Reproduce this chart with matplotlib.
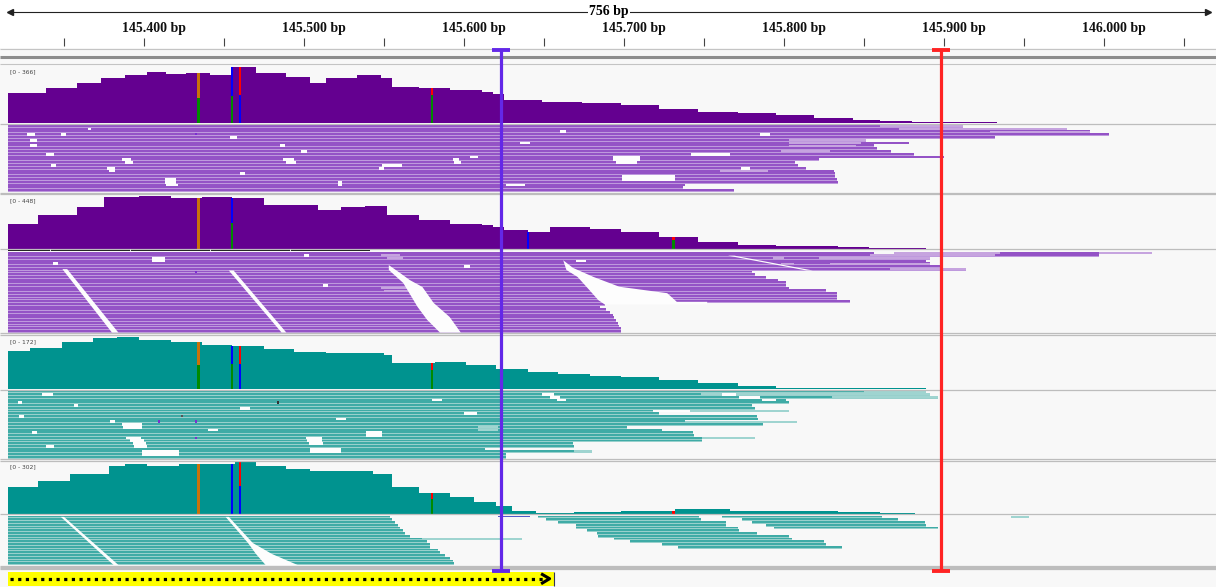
import matplotlib
matplotlib.use("Agg")
import matplotlib.pyplot as plt
import numpy as np

# genome window (bp)
START = 145315
END = 146066

# ruler
tick_pos = [145350, 145400, 145450, 145500, 145550, 145600, 145650, 145700,
            145750, 145800, 145850, 145900, 145950, 146000, 146050]
label_pos = [145400, 145500, 145600, 145700, 145800, 145900, 146000]
label_txt = ["145.400 bp", "145.500 bp", "145.600 bp", "145.700 bp",
             "145.800 bp", "145.900 bp", "146.000 bp"]
span_txt = "756 bp"

# coverage tracks: step start positions and depth
cov1_pos = [145315, 145339, 145358, 145373, 145388, 145402, 145414, 145426, 145441, 145455,
            145470, 145489, 145504, 145514, 145533, 145548, 145555, 145572, 145591, 145611,
            145618, 145625, 145649, 145674, 145698, 145722, 145746, 145771, 145795, 145819,
            145843, 145860, 145880, 145933]
cov1_depth = [191, 225, 259, 289, 308, 327, 315, 323, 308, 360,
              321, 297, 257, 289, 308, 289, 233, 225, 212, 197,
              184, 148, 137, 126, 116, 88, 73, 62, 49, 30,
              19, 13, 6, 0]
cov2_pos = [145315, 145334, 145358, 145375, 145397, 145417, 145436, 145455, 145475, 145494,
            145509, 145523, 145538, 145552, 145572, 145591, 145611, 145618, 145625, 145640,
            145654, 145679, 145698, 145722, 145746, 145771, 145795, 145834, 145853, 145889]
cov2_depth = [209, 279, 349, 428, 440, 420, 428, 420, 363, 363,
              321, 349, 357, 279, 237, 209, 194, 180, 152, 138,
              180, 166, 138, 96, 53, 31, 20, 11, 8, 0]
cov3_pos = [145315, 145329, 145349, 145368, 145383, 145397, 145417, 145436, 145455, 145475,
            145494, 145514, 145533, 145550, 145555, 145582, 145601, 145620, 145640, 145659,
            145679, 145698, 145722, 145746, 145771, 145795, 145843, 145889]
cov3_depth = [124, 132, 154, 165, 170, 159, 154, 143, 140, 129,
              121, 116, 118, 110, 83, 87, 78, 65, 54, 49,
              43, 40, 29, 18, 11, 4, 2, 0]
cov4_pos = [145315, 145334, 145354, 145378, 145388, 145402, 145422, 145441, 145457, 145470,
            145489, 145504, 145523, 145543, 145555, 145572, 145591, 145606, 145620, 145630,
            145645, 145669, 145698, 145732, 145766, 145795, 145834, 145860, 145882]
cov4_depth = [150, 188, 226, 274, 287, 274, 283, 287, 302, 274,
              255, 245, 245, 226, 150, 118, 93, 64, 42, 17,
              4, 11, 17, 27, 17, 17, 11, 4, 0]
cov_max = [366, 448, 172, 302]

# mismatch bars: (position, lower fraction, upper colour, lower colour)
snv1 = [(145434, 0.50, "orange", "green"), (145455, 0.49, "blue", "green"),
        (145460, 0.50, "red", "blue"), (145580, 0.80, "red", "green")]
snv2 = [(145434, 1.0, "orange", "orange"), (145455, 0.50, "blue", "green"),
        (145640, 1.0, "blue", "blue"), (145731, 0.70, "red", "green")]
snv3 = [(145434, 0.50, "orange", "green"), (145455, 0.58, "blue", "green"),
        (145460, 0.58, "red", "blue"), (145580, 0.75, "red", "green")]
snv4 = [(145434, 1.0, "orange", "orange"), (145455, 1.0, "blue", "blue"),
        (145460, 0.53, "red", "blue"), (145580, 0.70, "red", "green"),
        (145731, 0.0, "red", "red")]

# alignments: right end of the reads in each row (rows start at window start)
reads1_ends = [145912, 145977, 145991, 146003, 145932, 145851, 145878, 145856, 145858, 145867,
               145881, 145900, 145822, 145807, 145809, 145814, 145831, 145832, 145832, 145833,
               145834, 145738, 145737, 145769]
reads1_light = [(0, 145860, 145912), (1, 145872, 145977), (2, 145929, 145991),
                (5, 145803, 145851), (6, 145803, 145848), (7, 145803, 145845),
                (9, 145798, 145829), (16, 145760, 145790)]
reads1_gaps = [(11, 145693, 145710), (12, 145693, 145710), (13, 145695, 145708),
               (10, 145742, 145766), (18, 145699, 145732), (19, 145699, 145732),
               (21, 145626, 145638), (19, 145413, 145420), (20, 145413, 145420),
               (21, 145414, 145421), (20, 145521, 145524), (21, 145521, 145524),
               (12, 145386, 145392), (13, 145388, 145393), (15, 145377, 145382),
               (16, 145378, 145382), (12, 145487, 145494), (13, 145489, 145495),
               (12, 145593, 145597), (13, 145594, 145598), (14, 145549, 145561),
               (3, 145327, 145332), (5, 145329, 145333), (7, 145329, 145333),
               (10, 145339, 145344), (14, 145342, 145345), (3, 145348, 145351),
               (1, 145365, 145367), (16, 145379, 145381), (4, 145454, 145458),
               (7, 145485, 145488), (9, 145498, 145502), (15, 145547, 145550),
               (11, 145604, 145609), (17, 145460, 145463), (6, 145635, 145641),
               (2, 145660, 145664), (3, 145785, 145791), (15, 145773, 145779)]

reads2_ends = [145856, 145997, 145891, 145889, 145891, 145898, 145914, 145780, 145782, 145789,
               145796, 145801, 145801, 145803, 145826, 145833, 145833, 145833, 145841, 145688,
               145685, 145689, 145691, 145693, 145694, 145695, 145696, 145697, 145698, 145698]
reads2_extra = [(0, 145935, 145997)]
reads2_light = [(0, 145869, 145935), (0, 145997, 146030), (1, 145854, 145932),
                (2, 145822, 145891), (4, 145829, 145891), (6, 145866, 145914),
                (1, 145548, 145560), (2, 145552, 145562), (13, 145548, 145566),
                (14, 145550, 145568), (2, 145793, 145800), (4, 145798, 145806)]
reads2_gaps = [(2, 145405, 145413), (3, 145405, 145413), (4, 145343, 145346),
               (1, 145500, 145503), (3, 145670, 145676), (12, 145512, 145515),
               (5, 145600, 145604)]
reads2_wedges = [
    [(145349, 6.5), (145352, 6.5), (145384, 30), (145380, 30)],
    [(145453, 7), (145456, 7), (145489, 30), (145486, 30)],
    [(145553, 5), (145560, 7.9), (145566, 10.5), (145574, 13.1), (145581, 19),
     (145591, 24.2), (145598, 30), (145585, 30), (145577, 25.3), (145571, 20.5),
     (145562, 11.6), (145553, 6.8)],
    [(145662, 3.2), (145668, 6), (145681, 9.4), (145697, 13), (145727, 15.4),
     (145733, 18.6), (145752, 18.6), (145752, 19.6), (145688, 19.6), (145684, 18),
     (145678, 14), (145671, 9.4), (145664, 6.8)],
    [(145765, 1.5), (145769, 1.5), (145818, 7), (145814, 7)],
]
reads2_header = (145315, 145541)
reads2_header_ticks = [145341, 145391, 145441, 145491]

reads3_ends = [145850, 145891, 145896, 145801, 145803, 145780, 145782, 145803, 145722, 145783,
               145784, 145738, 145787, 145702, 145724, 145743, 145744, 145749, 145749, 145668,
               145669, 145613, 145669, 145626, 145626]
reads3_light = [(0, 145850, 145889), (1, 145748, 145891), (2, 145830, 145896),
                (7, 145741, 145803), (11, 145738, 145808), (17, 145749, 145782),
                (22, 145669, 145680), (13, 145609, 145621), (14, 145609, 145621)]
reads3_gaps = [(12, 145386, 145399), (13, 145387, 145399), (17, 145389, 145398),
               (18, 145391, 145400), (19, 145393, 145401), (20, 145394, 145402),
               (22, 145399, 145422), (23, 145399, 145422), (17, 145501, 145511),
               (18, 145502, 145511), (19, 145503, 145512), (15, 145539, 145549),
               (16, 145539, 145549), (21, 145504, 145523), (22, 145504, 145523),
               (1, 145649, 145656), (2, 145654, 145660), (3, 145658, 145664),
               (1, 145761, 145770), (2, 145772, 145785), (3, 145786, 145795),
               (7, 145718, 145741), (1, 145336, 145343), (4, 145321, 145324),
               (9, 145322, 145325), (15, 145330, 145333), (20, 145339, 145344),
               (11, 145379, 145382), (5, 145356, 145359), (6, 145460, 145466),
               (10, 145520, 145526), (14, 145440, 145446), (8, 145600, 145608),
               (3, 145580, 145586)]

reads4_ends = [145554, 145555, 145557, 145559, 145560, 145562, 145563, 145566, 145574, 145577,
               145579, 145579, 145584, 145585, 145588, 145591, 145593, 145594]
reads4_extra = [(0, 145646, 145747), (0, 145761, 145861), (1, 145651, 145748),
                (1, 145774, 145871), (2, 145659, 145764), (2, 145780, 145888),
                (3, 145670, 145764), (3, 145789, 145889), (4, 145670, 145771),
                (4, 145794, 145896), (5, 145677, 145772), (6, 145683, 145783),
                (7, 145684, 145803), (8, 145694, 145805), (9, 145704, 145825),
                (10, 145724, 145826), (11, 145734, 145836)]
reads4_light = [(0, 145942, 145953), (8, 145574, 145636)]
reads4_gaps = []
reads4_wedges = [
    [(145348, 0.5), (145350, 0.5), (145384, 18), (145381, 18)],
    [(145451, 0.5), (145453, 0.5), (145468, 10), (145480, 14), (145496, 18),
     (145476, 18), (145470, 14), (145465, 10)],
]
reads4_blue = (0, 145621, 145641)
read_marks = [(1, 3, 145432, "#7B2FD0"), (2, 7, 145432, "#7B2FD0"),
              (3, 11, 145409, "#7B2FD0"), (3, 11, 145432, "#7B2FD0"),
              (3, 17, 145432, "#7B2FD0"), (3, 9, 145423, "#555555"),
              (3, 4, 145483, "#333333")]

# region markers and bottom feature
marker_pos = [145623, 145898]
marker_col = ["#6328E8", "#FF2424"]
feature_span = (145315, 145656)

# ---- layout (pixel rows of the screenshot) ----
BG = "#F8F8F8"
GAP = "#FDFDFD"
cov_box = [(66, 123), (195, 248.5), (336, 389), (461, 513.5)]
read_box = [(124.8, 2.8), (251.6, 2.7), (390.5, 2.72), (515.5, 2.75)]
cov_col = ["#640090", "#640090", "#00938F", "#00938F"]
read_dark = ["#9453C6", "#9453C6", "#3FABA6", "#3FABA6"]
read_pale = ["#BE99DD", "#BE99DD", "#98D0CC", "#98D0CC"]
read_mq0 = ["#C6A4DF", "#C6A4DF", "#9FD4D0", "#9FD4D0"]
snv_col = {"orange": "#C8720A", "green": "#008A00", "blue": "#0000FF", "red": "#FF0000"}

fig = plt.figure(figsize=(12.16, 5.87), dpi=100)
fig.patch.set_facecolor(BG)
ax = fig.add_axes([0, 0, 1, 1])
ax.set_xlim(145310, 146070)
ax.set_ylim(587, 0)
ax.axis("off")
ax.set_facecolor(BG)

# ruler
ax.axhspan(0, 47.5, color="white", lw=0)
ax.plot([START + 1, END - 1], [12, 12], color="#222222", lw=0.8)
ax.plot([START + 1], [12], marker="<", color="#222222", ms=4)
ax.plot([END - 1], [12], marker=">", color="#222222", ms=4)
ax.text((START + END) / 2, 12, span_txt, ha="center", va="center", fontsize=10,
        family="Liberation Serif", fontweight="bold",
        bbox=dict(facecolor="white", edgecolor="none", pad=1))
for p, t in zip(label_pos, label_txt):
    ax.text(p + 6, 28.5, t, ha="center", va="center", fontsize=10,
            family="Liberation Serif", fontweight="bold", color="#111111")
ax.vlines(tick_pos, 38, 46, color="#444444", lw=0.8)
ax.hlines(48.5, START - 5, END + 5, color="#C4C4C4", lw=0.8)
ax.hlines(57.3, START - 5, END + 5, color="#8E8E8E", lw=2.2)
ax.hlines(63.5, START - 5, END + 5, color="#C4C4C4", lw=0.8)

# coverage tracks
covs = [(cov1_pos, cov1_depth, snv1), (cov2_pos, cov2_depth, snv2),
        (cov3_pos, cov3_depth, snv3), (cov4_pos, cov4_depth, snv4)]
for i, (pos, depth, snvs) in enumerate(covs):
    top, base = cov_box[i]
    hpx = base - top
    pos = np.array(pos, dtype=float)
    depth = np.array(depth, dtype=float)
    ax.fill_between(pos, base - depth / cov_max[i] * hpx, base, step="post",
                    color=cov_col[i], lw=0)
    for p, frac, ctop, cbot in snvs:
        d = depth[np.searchsorted(pos, p, side="right") - 1]
        h = d / cov_max[i] * hpx
        ax.bar(p, h * (1 - frac), width=1.5, bottom=base - h, color=snv_col[ctop], lw=0)
        ax.bar(p, h * frac, width=1.5, bottom=base - h * frac, color=snv_col[cbot], lw=0)
    ax.text(START + 1, top + 6, "[0 - %d]" % cov_max[i], fontsize=4.3,
            color="#444444", va="center", ha="left")
    ax.hlines(base + 0.6, START - 5, END + 5, color="#BDBDBD", lw=0.9)

# alignment tracks
reads = [(reads1_ends, [], reads1_light, reads1_gaps, []),
         (reads2_ends, reads2_extra, reads2_light, reads2_gaps, reads2_wedges),
         (reads3_ends, [], reads3_light, reads3_gaps, []),
         (reads4_ends, reads4_extra, reads4_light, reads4_gaps, reads4_wedges)]
for i, (ends, extra, light, gaps, wedges) in enumerate(reads):
    top, pitch = read_box[i]
    rows = [[(START, e - START)] for e in ends]
    for r, s, e in extra:
        rows[r].append((s, e - s))
    for r, segs in enumerate(rows):
        y = top + r * pitch
        ax.broken_barh(segs, (y, pitch), facecolor=read_pale[i], lw=0)
        ax.broken_barh(segs, (y + 0.02 * pitch, pitch * 0.7), facecolor=read_dark[i], lw=0)
    for r, s, e in light:
        ax.broken_barh([(s, e - s)], (top + r * pitch + 0.05 * pitch, pitch * 0.75),
                       facecolor=read_mq0[i], lw=0)
    for r, s, e in gaps:
        ax.broken_barh([(s, e - s)], (top + r * pitch, pitch), facecolor=GAP, lw=0)
    for w in wedges:
        wx = [p[0] for p in w]
        wy = [top + p[1] * pitch for p in w]
        ax.fill(wx, wy, color=GAP, lw=0)
    bottom = top + len(ends) * pitch
    ax.hlines([bottom + 0.8, bottom + 2.4], START - 5, END + 5, color="#BDBDBD", lw=0.9)

# black header row of the second alignment track
ax.broken_barh([(reads2_header[0], reads2_header[1] - reads2_header[0])], (248.8, 2.6),
               facecolor="#111111", lw=0)
ax.vlines(reads2_header_ticks, 249.2, 251, color="white", lw=0.6)

# blue clipped segment in the fourth track
r, s, e = reads4_blue
ax.broken_barh([(s, e - s)], (read_box[3][0] + r * read_box[3][1] + 0.3, 1.6),
               facecolor="#5458C8", lw=0)
for t, r, p, c in read_marks:
    top, pitch = read_box[t - 1]
    ax.broken_barh([(p, 1.2)], (top + r * pitch, pitch * 0.8), facecolor=c, lw=0)

# bottom feature bar
ax.axhspan(566, 587, color=BG, lw=0)
ax.hlines([567.5, 569], START - 5, END + 5, color="#BDBDBD", lw=0.9)
ax.broken_barh([(feature_span[0], feature_span[1] - feature_span[0])], (572, 13.5),
               facecolor="#FFFF00", lw=0)
ax.plot([feature_span[0] + 1, feature_span[1] - 6], [578.7, 578.7], color="black",
        lw=2.3, linestyle=(0, (1, 1.4)), solid_capstyle="butt")
ax.plot([feature_span[1] - 7, feature_span[1] - 2.5, feature_span[1] - 7],
        [574.5, 578.7, 583], color="black", lw=2.2)
ax.vlines(feature_span[1], 572, 585.5, color="#333355", lw=0.8)

# region markers
for p, c in zip(marker_pos, marker_col):
    ax.vlines(p, 49.5, 570.5, color=c, lw=2.3)
    ax.hlines([49.5, 570.5], p - 5.5, p + 5.5, color=c, lw=2.8)

fig.savefig("out.png", dpi=100, facecolor=fig.get_facecolor())
